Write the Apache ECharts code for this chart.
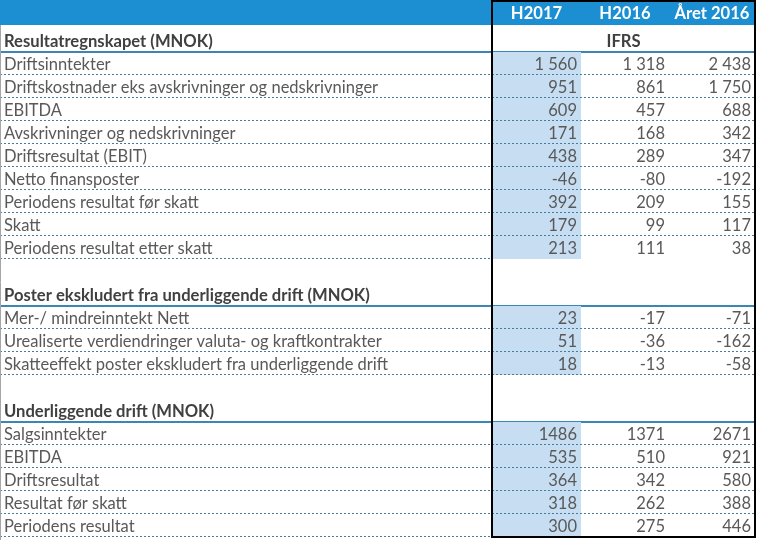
<!DOCTYPE html>
<html><head><meta charset="utf-8">
<script src="https://cdn.jsdelivr.net/npm/echarts@6/dist/echarts.min.js"></script>
<style>html,body{margin:0;padding:0;background:#fff}#c{width:759px;height:540px}</style>
</head><body><div id="c"></div>
<script>
// ---------- DATA ----------
const columnHeaders = ['H2017', 'H2016', 'Året 2016'];
const standardLabel = 'IFRS';

const section1Title = 'Resultatregnskapet (MNOK)';
const section1Rows = ['Driftsinntekter', 'Driftskostnader eks avskrivninger og nedskrivninger', 'EBITDA',
  'Avskrivninger og nedskrivninger', 'Driftsresultat (EBIT)', 'Netto finansposter',
  'Periodens resultat før skatt', 'Skatt', 'Periodens resultat etter skatt'];
const section1H2017 = [1560, 951, 609, 171, 438, -46, 392, 179, 213];
const section1H2016 = [1318, 861, 457, 168, 289, -80, 209, 99, 111];
const section1Year2016 = [2438, 1750, 688, 342, 347, -192, 155, 117, 38];

const section2Title = 'Poster ekskludert fra underliggende drift (MNOK)';
const section2Rows = ['Mer-/ mindreinntekt Nett', 'Urealiserte verdiendringer valuta- og kraftkontrakter',
  'Skatteeffekt poster ekskludert fra underliggende drift'];
const section2H2017 = [23, 51, 18];
const section2H2016 = [-17, -36, -13];
const section2Year2016 = [-71, -162, -58];

const section3Title = 'Underliggende drift (MNOK)';
const section3Rows = ['Salgsinntekter', 'EBITDA', 'Driftsresultat', 'Resultat før skatt', 'Periodens resultat'];
const section3H2017 = [1486, 535, 364, 318, 300];
const section3H2016 = [1371, 510, 342, 262, 275];
const section3Year2016 = [2671, 921, 580, 388, 446];

// ---------- LAYOUT / STYLE ----------
const layout = {
  colEdges: [0, 492, 581, 669, 755],
  headerH: 25, titleH: [27, 24, 24], rowH: 23, blankH: 23,
  labelX: 4, padR: 4
};
const FONT = 'Lato, Carlito, sans-serif';
const FS = '16.5px ', FSB = 'bold 16.6px ';
const C = {
  headerBg: '#1b8fd1', hi: '#c6ddf2', text: '#595959', bold: '#404040',
  solid: '#3a86b4', dot: '#4a7a9b', border: '#000', left: '#a6a6a6'
};

const sections = [
  { title: section1Title, labels: section1Rows, cols: [section1H2017, section1H2016, section1Year2016], grouped: true, std: standardLabel, lastLineBoxed: true },
  { title: section2Title, labels: section2Rows, cols: [section2H2017, section2H2016, section2Year2016], grouped: true },
  { title: section3Title, labels: section3Rows, cols: [section3H2017, section3H2016, section3Year2016], grouped: false }
];

function fmt(v, grouped) {
  const s = String(Math.abs(v));
  const g = grouped ? s.replace(/\B(?=(\d{3})+(?!\d))/g, ' ') : s;
  return (v < 0 ? '-' : '') + g;
}

// build row list
const rows = [];
let y = 0;
rows.push({ kind: 'header', y0: y, y1: y + layout.headerH }); y += layout.headerH;
sections.forEach((s, si) => {
  if (si > 0) { rows.push({ kind: 'blank', y0: y, y1: y + layout.blankH }); y += layout.blankH; }
  rows.push({ kind: 'title', label: s.title, std: s.std, y0: y, y1: y + layout.titleH[si] }); y += layout.titleH[si];
  s.labels.forEach((lab, i) => {
    const last = i === s.labels.length - 1;
    rows.push({ kind: 'data', label: lab, vals: s.cols.map(c => fmt(c[i], s.grouped)), y0: y, y1: y + layout.rowH,
      lineLeftOnly: last && s.lastLineBoxed });
    y += layout.rowH;
  });
});
const tableBottom = y;

function renderRow(params, api) {
  const r = rows[params.dataIndex];
  const top = api.coord([0, r.y0])[1];
  const bot = api.coord([0, r.y1])[1];
  const X = v => api.coord([v, 0])[0];
  const E = layout.colEdges;
  const ch = [];
  const textY = bot - 10;
  if (r.kind === 'header') {
    ch.push({ type: 'rect', shape: { x: X(E[0]), y: top, width: X(E[4]) - X(E[0]), height: bot - top }, style: { fill: C.headerBg } });
    columnHeaders.forEach((h, k) => {
      ch.push({ type: 'text', style: { text: h, x: (X(E[k + 1]) + X(E[k + 2])) / 2, y: bot - 11.5, align: 'center', verticalAlign: 'middle', font: FSB + FONT, fill: '#fff' } });
    });
  } else if (r.kind === 'title') {
    ch.push({ type: 'text', style: { text: r.label, x: X(E[0]) + layout.labelX, y: textY, align: 'left', verticalAlign: 'middle', font: FSB + FONT, fill: C.bold } });
    if (r.std) ch.push({ type: 'text', style: { text: r.std, x: (X(E[1]) + X(E[4])) / 2, y: textY, align: 'center', verticalAlign: 'middle', font: FSB + FONT, fill: C.bold } });
    ch.push({ type: 'line', shape: { x1: X(E[0]), y1: bot, x2: X(E[4]), y2: bot }, style: { stroke: C.solid, lineWidth: 2 } });
  } else if (r.kind === 'data') {
    ch.push({ type: 'rect', shape: { x: X(E[1]), y: top, width: X(E[2]) - X(E[1]), height: bot - top }, style: { fill: C.hi } });
    ch.push({ type: 'text', style: { text: r.label, x: X(E[0]) + layout.labelX, y: textY, align: 'left', verticalAlign: 'middle', font: FS + FONT, fill: C.text } });
    r.vals.forEach((v, k) => {
      ch.push({ type: 'text', style: { text: v, x: X(E[k + 2]) - layout.padR, y: textY, align: 'right', verticalAlign: 'middle', font: FS + FONT, fill: C.text } });
    });
    const x2 = r.lineLeftOnly ? X(E[1]) : X(E[4]);
    ch.push({ type: 'line', shape: { x1: X(E[0]), y1: bot - 0.5, x2: x2, y2: bot - 0.5 }, style: { stroke: C.dot, lineWidth: 1, lineDash: [2, 2] } });
  }
  return { type: 'group', children: ch };
}

function renderFrame(params, api) {
  const E = layout.colEdges;
  const X = v => api.coord([v, 0])[0];
  const Y = v => api.coord([0, v])[1];
  return { type: 'group', children: [
    { type: 'line', shape: { x1: X(E[0]) + 0.5, y1: Y(layout.headerH), x2: X(E[0]) + 0.5, y2: Y(540) }, style: { stroke: C.left, lineWidth: 1 } },
    { type: 'rect', shape: { x: X(E[1]), y: Y(0) + 1, width: X(E[4]) - X(E[1]), height: Y(tableBottom) - Y(0) - 1 }, style: { fill: 'none', stroke: C.border, lineWidth: 2 } }
  ] };
}

const chart = echarts.init(document.getElementById('c'), null, { renderer: 'canvas' });
chart.setOption({
  animation: false,
  grid: { left: 0, top: 0, width: 759, height: 540 },
  xAxis: { type: 'value', min: 0, max: 759, show: false },
  yAxis: { type: 'value', min: 0, max: 540, inverse: true, show: false },
  series: [
    { type: 'custom', clip: false, renderItem: renderRow, data: rows.map((r, i) => [i]), z: 2 },
    { type: 'custom', clip: false, renderItem: renderFrame, data: [[0]], z: 5 }
  ]
});
</script></body></html>
